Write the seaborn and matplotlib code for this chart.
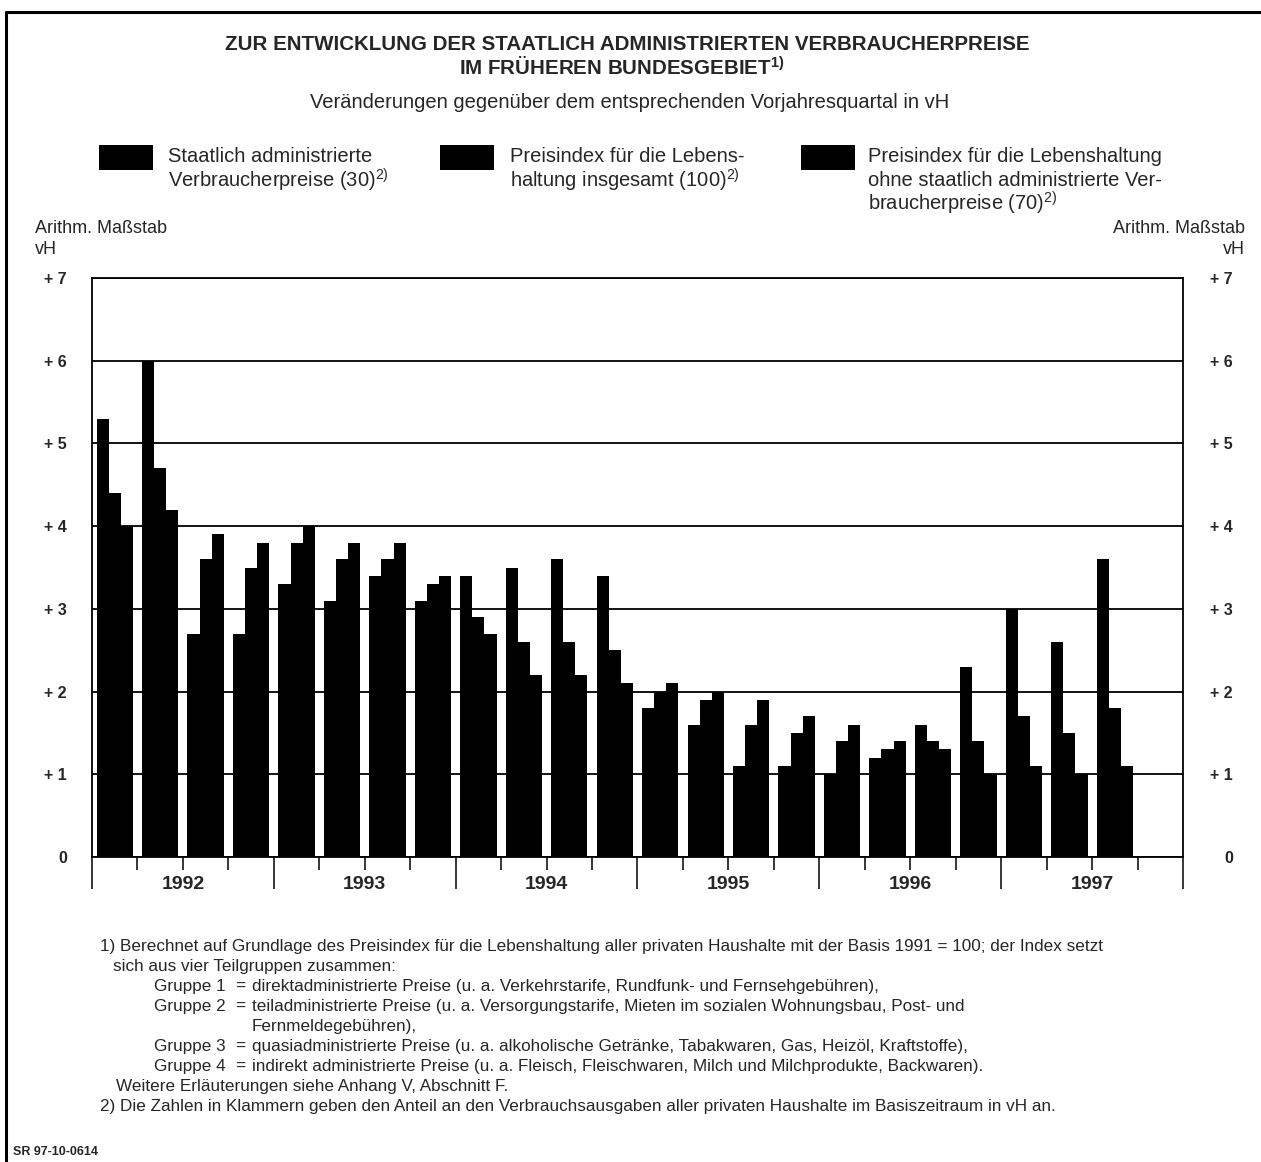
import matplotlib
matplotlib.use("Agg")
import matplotlib.pyplot as plt
import seaborn as sns
import pandas as pd
from matplotlib.lines import Line2D
from matplotlib.patches import Rectangle

# ---------------------------------------------------------------------------
#               data (Veränderung gegenüber Vorjahresquartal in vH)
# ---------------------------------------------------------------------------
quarters = ["1992 Q1", "1992 Q2", "1992 Q3", "1992 Q4",
            "1993 Q1", "1993 Q2", "1993 Q3", "1993 Q4",
            "1994 Q1", "1994 Q2", "1994 Q3", "1994 Q4",
            "1995 Q1", "1995 Q2", "1995 Q3", "1995 Q4",
            "1996 Q1", "1996 Q2", "1996 Q3", "1996 Q4",
            "1997 Q1", "1997 Q2", "1997 Q3"]

staatlich_adm = [5.3, 6.0, 2.7, 2.7, 3.3, 3.1, 3.4, 3.1,
                 3.4, 3.5, 3.6, 3.4, 1.8, 1.6, 1.1, 1.1,
                 1.0, 1.2, 1.6, 2.3, 3.0, 2.6, 3.6]
insgesamt = [4.4, 4.7, 3.6, 3.5, 3.8, 3.6, 3.6, 3.3,
             2.9, 2.6, 2.6, 2.5, 2.0, 1.9, 1.6, 1.5,
             1.4, 1.3, 1.4, 1.4, 1.7, 1.5, 1.8]
ohne_adm = [4.0, 4.2, 3.9, 3.8, 4.0, 3.8, 3.8, 3.4,
            2.7, 2.2, 2.2, 2.1, 2.1, 2.0, 1.9, 1.7,
            1.6, 1.4, 1.3, 1.0, 1.1, 1.0, 1.1]

series_names = ["Staatlich administrierte Verbraucherpreise",
                "Preisindex insgesamt",
                "Preisindex ohne staatlich administrierte Verbraucherpreise"]

years = ["1992", "1993", "1994", "1995", "1996", "1997"]
y_ticks = [0, 1, 2, 3, 4, 5, 6, 7]
y_labels = ["0", "+ 1", "+ 2", "+ 3", "+ 4", "+ 5", "+ 6", "+ 7"]

legend_lines = [
    ["Staatlich administrierte", "Verbraucherpreise (30)$^{2)}$"],
    ["Preisindex für die Lebens-", "haltung insgesamt (100)$^{2)}$"],
    ["Preisindex für die Lebenshaltung", "ohne staatlich administrierte Ver-",
     "braucherpreise (70)$^{2)}$"],
]

df = pd.DataFrame({
    "quartal": quarters * 3,
    "reihe": [series_names[0]] * len(quarters) + [series_names[1]] * len(quarters)
             + [series_names[2]] * len(quarters),
    "wert": staatlich_adm + insgesamt + ohne_adm,
})

# ---------------------------------------------------------------------------
#               style
# ---------------------------------------------------------------------------
sns.set_theme(style="white")
plt.rcParams["font.family"] = ["Liberation Sans", "DejaVu Sans"]
plt.rcParams["mathtext.default"] = "regular"

W, H = 1261, 1162
fig = plt.figure(figsize=(W / 100, H / 100), dpi=100)
fig.patch.set_facecolor("white")


def fx(x):
    return x / W


def fy(y):
    return 1 - y / H


ax = fig.add_axes([fx(92), fy(857), fx(1183) - fx(92), fy(278) - fy(857)])

sns.barplot(data=df, x="quartal", y="wert", hue="reihe", order=quarters,
            hue_order=series_names, palette=["black"] * 3, width=0.8,
            linewidth=0, saturation=1, legend=False, ax=ax)

ax.set_xlim(-0.5, 23.5)
ax.set_ylim(0, 7)
ax.set_xlabel("")
ax.set_ylabel("")
ax.set_axisbelow(True)
ax.yaxis.grid(True, color="black", linewidth=1.3)
for sp in ax.spines.values():
    sp.set_color("black")
    sp.set_linewidth(1.3)

# x axis: long ticks at year boundaries, short ticks at quarter boundaries
ax.set_xticks([-0.5 + 4 * i for i in range(len(years) + 1)])
ax.set_xticks([-0.5 + i for i in range(24)], minor=True)
ax.set_xticklabels([])
ax.tick_params(axis="x", which="major", direction="out", length=23,
               width=1.1, color="black", bottom=True)
ax.tick_params(axis="x", which="minor", direction="out", length=9,
               width=1.1, color="black", bottom=True)
for i, yr in enumerate(years):
    ax.text(1.5 + 4 * i, -0.047, yr, transform=ax.get_xaxis_transform(),
            ha="center", va="center", fontsize=14, fontweight="bold")

# y axis left and right
ax.set_yticks(y_ticks)
ax.set_yticklabels(y_labels, fontsize=11.5, fontweight="bold")
ax.tick_params(axis="y", length=0, pad=18, left=False)

ax2 = ax.twinx()
ax2.set_ylim(0, 7)
ax2.set_yticks(y_ticks)
ax2.set_yticklabels(y_labels, fontsize=11.5, fontweight="bold")
ax2.tick_params(axis="y", length=0, pad=36, right=False)
for lbl in ax2.get_yticklabels():
    lbl.set_ha("right")
for sp in ax2.spines.values():
    sp.set_visible(False)
ax2.grid(False)

# ---------------------------------------------------------------------------
#               texts
# ---------------------------------------------------------------------------
fig.text(fx(627), fy(45), "ZUR ENTWICKLUNG DER STAATLICH ADMINISTRIERTEN VERBRAUCHERPREISE",
         ha="center", va="center", fontsize=14.8, fontweight="bold")
fig.text(fx(622), fy(68), "IM FRÜHEREN BUNDESGEBIET$^{1)}$",
         ha="center", va="center", fontsize=14.8, fontweight="bold")
fig.text(fx(630), fy(103), "Veränderungen gegenüber dem entsprechenden Vorjahresquartal in vH",
         ha="center", va="center", fontsize=14.5)

sq_x = [99, 440, 801]
txt_x = [168, 510, 868]
for i in range(3):
    fig.add_artist(Rectangle((fx(sq_x[i]), fy(170)), fx(54), 25 / H,
                             transform=fig.transFigure, color="black", lw=0))
    for j, line in enumerate(legend_lines[i]):
        fig.text(fx(txt_x[i]), fy(157 + 23 * j), line, ha="left", va="center",
                 fontsize=14.5)

fig.text(fx(35), fy(229), "Arithm. Maßstab", ha="left", va="center", fontsize=13)
fig.text(fx(35), fy(249), "vH", ha="left", va="center", fontsize=13)
fig.text(fx(1245), fy(229), "Arithm. Maßstab", ha="right", va="center", fontsize=13)
fig.text(fx(1245), fy(249), "vH", ha="right", va="center", fontsize=13)

notes = [
    (100, "1) Berechnet auf Grundlage des Preisindex für die Lebenshaltung aller privaten "
          "Haushalte mit der Basis 1991 = 100; der Index setzt"),
    (113, "sich aus vier Teilgruppen zusammen:"),
    (154, "Gruppe 1"),
    (154, "Gruppe 2"),
    (252, "Fernmeldegebühren),"),
    (154, "Gruppe 3"),
    (154, "Gruppe 4"),
    (116, "Weitere Erläuterungen siehe Anhang V, Abschnitt F."),
    (100, "2) Die Zahlen in Klammern geben den Anteil an den Verbrauchsausgaben aller "
          "privaten Haushalte im Basiszeitraum in vH an."),
]
groups = {
    2: "direktadministrierte Preise (u. a. Verkehrstarife, Rundfunk- und Fernsehgebühren),",
    3: "teiladministrierte Preise (u. a. Versorgungstarife, Mieten im sozialen Wohnungsbau, Post- und",
    5: "quasiadministrierte Preise (u. a. alkoholische Getränke, Tabakwaren, Gas, Heizöl, Kraftstoffe),",
    6: "indirekt administrierte Preise (u. a. Fleisch, Fleischwaren, Milch und Milchprodukte, Backwaren).",
}
for k, (x0, line) in enumerate(notes):
    yy = fy(946 + 20 * k)
    fig.text(fx(x0), yy, line, ha="left", va="center", fontsize=12.3)
    if k in groups:
        fig.text(fx(235), yy, "=", ha="left", va="center", fontsize=12.3)
        fig.text(fx(252), yy, groups[k], ha="left", va="center", fontsize=12.3)

fig.text(fx(13), fy(1152), "SR 97-10-0614", ha="left", va="center",
         fontsize=9, fontweight="bold")

# page frame
fig.add_artist(Line2D([fx(6), 1], [fy(12), fy(12)], transform=fig.transFigure,
                      color="black", lw=2.2))
fig.add_artist(Line2D([fx(6), fx(6)], [fy(12), 0], transform=fig.transFigure,
                      color="black", lw=2.2))

fig.savefig("out.png", dpi=100, facecolor="white")
